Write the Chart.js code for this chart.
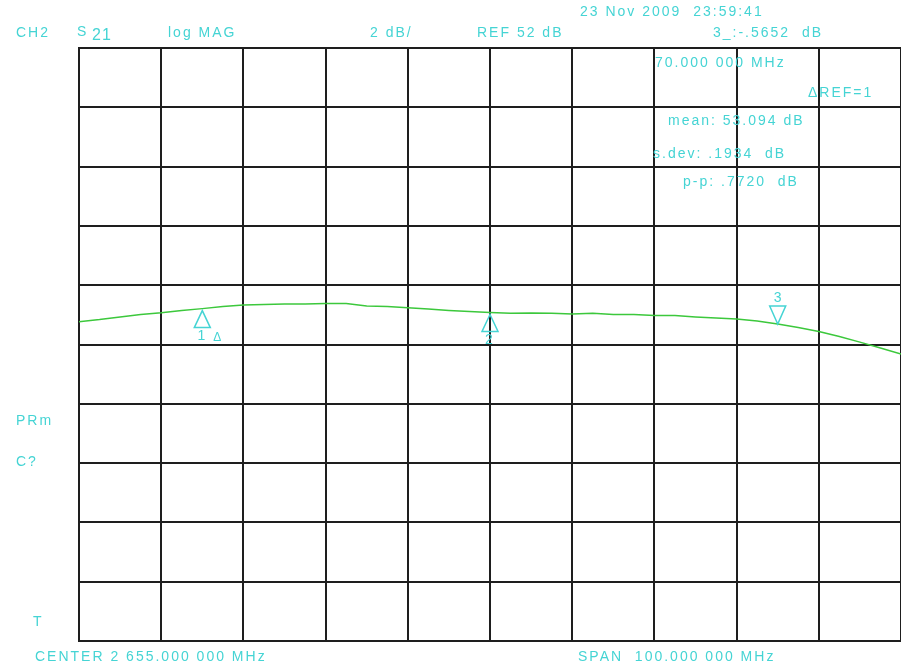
<!DOCTYPE html>
<html lang="en">
<head>
    <meta charset="UTF-8">
    <title>CH2 S21 log MAG</title>
    <script src="https://cdn.jsdelivr.net/npm/chart.js"></script>
    <style>
        body { margin: 0; background: #fff; }
        #box { width: 901px; height: 668px; position: relative; }
    </style>
</head>
<body>
    <div id="box">
        <canvas id="myChart"></canvas>
    </div>

    <script>
        // sweep: center 2655 MHz, span 100 MHz, 2.5 MHz per point
        let freqs = [2605, 2607.5, 2610, 2612.5, 2615, 2617.5, 2620, 2622.5, 2625, 2627.5,
                     2630, 2632.5, 2635, 2637.5, 2640, 2642.5, 2645, 2647.5, 2650, 2652.5,
                     2655, 2657.5, 2660, 2662.5, 2665, 2667.5, 2670, 2672.5, 2675, 2677.5,
                     2680, 2682.5, 2685, 2687.5, 2690, 2692.5, 2695, 2697.5, 2700, 2702.5, 2705];

        // S21 magnitude in dB
        let s21 = [52.77, 52.84, 52.93, 53.01, 53.07, 53.15, 53.21, 53.28, 53.33, 53.35,
                   53.37, 53.37, 53.38, 53.38, 53.30, 53.28, 53.24, 53.20, 53.15, 53.11,
                   53.08, 53.05, 53.06, 53.05, 53.03, 53.05, 53.01, 53.01, 52.98, 52.98,
                   52.93, 52.89, 52.86, 52.79, 52.69, 52.57, 52.44, 52.27, 52.08, 51.88, 51.68];

        // markers
        let markerNames = ["1", "2", "3"];
        let markerFreqs = [2620, 2655, 2690];

        // axis setup, REF 52 dB at center, 2 dB/div
        let xTicks = [2605, 2615, 2625, 2635, 2645, 2655, 2665, 2675, 2685, 2695, 2705];
        let yTicks = [42, 44, 46, 48, 50, 52, 54, 56, 58, 60, 62];

        let cyan = "#45d4d4";
        let font = "14px 'Liberation Sans', Arial, sans-serif";

        let pts = freqs.map((f, i) => ({ x: f, y: s21[i] }));

        function traceAt(f) {
            for (let i = 0; i < freqs.length - 1; i++) {
                if (f >= freqs[i] && f <= freqs[i + 1]) {
                    let t = (f - freqs[i]) / (freqs[i + 1] - freqs[i]);
                    return s21[i] + t * (s21[i + 1] - s21[i]);
                }
            }
            return s21[s21.length - 1];
        }

        function txt(ctx, s, x, y) {
            ctx.fillText(s, x, y);
        }

        // annotation text + marker triangles
        let screenText = {
            id: "screenText",
            afterDraw(chart) {
                let ctx = chart.ctx;
                let xs = chart.scales.x;
                let ys = chart.scales.y;
                ctx.save();
                ctx.fillStyle = cyan;
                ctx.strokeStyle = cyan;
                ctx.font = font;
                ctx.letterSpacing = "2px";
                ctx.textBaseline = "middle";
                ctx.textAlign = "left";

                txt(ctx, "23 Nov 2009  23:59:41", 580, 12);
                txt(ctx, "CH2", 16, 33);
                txt(ctx, "S", 77, 32);
                ctx.font = "16px 'Liberation Sans', Arial, sans-serif";
                ctx.letterSpacing = "1px";
                txt(ctx, "21", 92, 36);
                ctx.font = font;
                ctx.letterSpacing = "2px";
                txt(ctx, "log MAG", 168, 33);
                txt(ctx, "2 dB/", 370, 33);
                txt(ctx, "REF 52 dB", 477, 33);
                txt(ctx, "3_:-.5652  dB", 713, 33);

                txt(ctx, "70.000 000 MHz", 655, 63);
                txt(ctx, "\u0394REF=1", 808, 93);
                txt(ctx, "mean: 53.094 dB", 668, 121);
                txt(ctx, "s.dev: .1934  dB", 653, 154);
                txt(ctx, "p-p: .7720  dB", 683, 182);

                txt(ctx, "PRm", 16, 421);
                txt(ctx, "C?", 16, 462);
                txt(ctx, "T", 33, 622);
                txt(ctx, "CENTER 2 655.000 000 MHz", 35, 657);
                txt(ctx, "SPAN  100.000 000 MHz", 578, 657);

                // marker triangles sitting on the trace
                ctx.lineWidth = 1.5;
                ctx.textAlign = "center";
                ctx.letterSpacing = "0px";
                markerFreqs.forEach((f, i) => {
                    let px = xs.getPixelForValue(f);
                    let py = ys.getPixelForValue(traceAt(f));
                    ctx.beginPath();
                    if (i < 2) {
                        let top = py + 2;
                        ctx.moveTo(px, top);
                        ctx.lineTo(px - 8, top + 17);
                        ctx.lineTo(px + 8, top + 17);
                        ctx.closePath();
                        ctx.stroke();
                        txt(ctx, markerNames[i], px - 1, top + 26);
                        if (i == 0) {
                            ctx.font = "12px 'Liberation Sans', Arial, sans-serif";
                            txt(ctx, "\u0394", px + 15, top + 27);
                            ctx.font = font;
                        }
                    } else {
                        ctx.moveTo(px, py);
                        ctx.lineTo(px - 8, py - 18);
                        ctx.lineTo(px + 8, py - 18);
                        ctx.closePath();
                        ctx.stroke();
                        txt(ctx, markerNames[i], px, py - 26);
                    }
                });
                ctx.restore();
            }
        };

        let configs = {
            type: "line",
            data: {
                datasets: [
                    {
                        label: "S21",
                        data: pts,
                        borderColor: "#3cc83c",
                        borderWidth: 1.5,
                        pointRadius: 0,
                        tension: 0
                    }
                ]
            },
            options: {
                responsive: true,
                maintainAspectRatio: false,
                animation: false,
                devicePixelRatio: 1,
                layout: { padding: { left: 79, top: 48, right: 0, bottom: 27 } },
                plugins: {
                    legend: { display: false },
                    tooltip: { enabled: false }
                },
                scales: {
                    x: {
                        type: "linear",
                        min: xTicks[0],
                        max: xTicks[xTicks.length - 1],
                        afterBuildTicks: (axis) => { axis.ticks = xTicks.map(v => ({ value: v })); },
                        ticks: { display: false },
                        grid: { color: "#1e1e1e", lineWidth: 2, drawTicks: false },
                        border: { color: "#1e1e1e", width: 2 }
                    },
                    y: {
                        min: yTicks[0],
                        max: yTicks[yTicks.length - 1],
                        afterBuildTicks: (axis) => { axis.ticks = yTicks.map(v => ({ value: v })); },
                        ticks: { display: false },
                        grid: { color: "#1e1e1e", lineWidth: 2, drawTicks: false },
                        border: { color: "#1e1e1e", width: 2 }
                    }
                }
            },
            plugins: [screenText]
        };

        new Chart(document.getElementById("myChart"), configs);
    </script>
</body>
</html>
